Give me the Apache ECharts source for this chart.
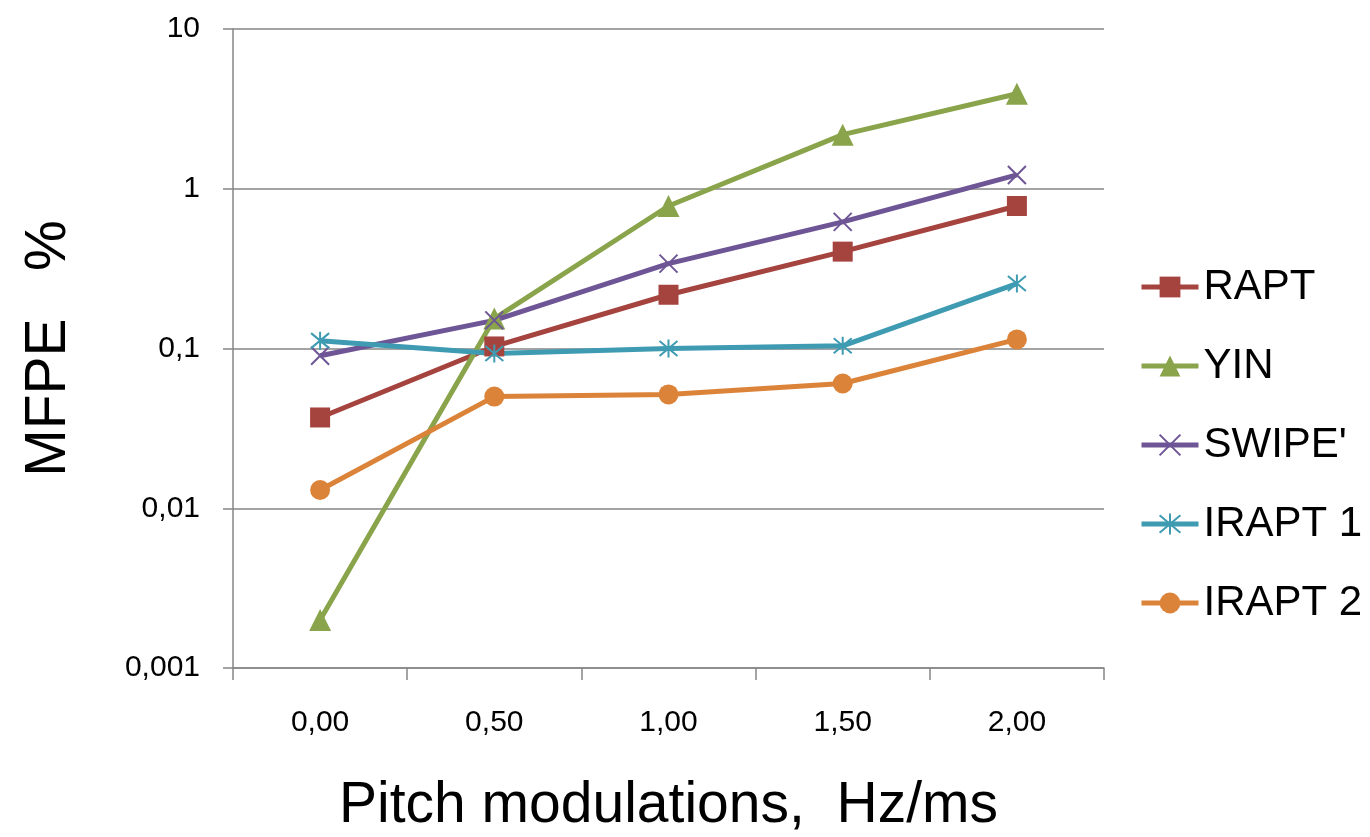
<!DOCTYPE html>
<html>
<head>
<meta charset="utf-8">
<script src="https://cdn.jsdelivr.net/npm/echarts@6/dist/echarts.min.js"></script>
<style>html,body{margin:0;padding:0;background:#fff}#c{width:1370px;height:837px}</style>
</head>
<body>
<div id="c"></div>
<script>
const categories = ['0,00', '0,50', '1,00', '1,50', '2,00'];
const rapt   = [0.037, 0.103, 0.217, 0.404, 0.78];
const yin    = [0.002, 0.154, 0.78, 2.18, 3.93];
const swipe  = [0.090, 0.150, 0.34, 0.62, 1.22];
const irapt1 = [0.112, 0.093, 0.100, 0.104, 0.255];
const irapt2 = [0.013, 0.050, 0.0516, 0.0604, 0.114];
const seriesNames = ['RAPT', 'YIN', "SWIPE'", 'IRAPT 1', 'IRAPT 2'];
const colors = ['#A5433F', '#89A44B', '#6E5595', '#3E9BB2', '#DC833A'];

const xPath = 'path://M0,0L10,10M10,0L0,10';
const starPath = 'path://M5,-1L5,11M0,0L10,10M10,0L0,10';

function mk(name, data, color, symbol, size, stroke) {
  const s = {
    name, type: 'line', data, symbol, symbolSize: size,
    lineStyle: { color, width: 5 },
    itemStyle: { color },
    showSymbol: true
  };
  if (stroke) s.itemStyle = { color: color, borderColor: color, borderWidth: 2 };
  return s;
}

const chart = echarts.init(document.getElementById('c'));
chart.setOption({
  animation: false,
  backgroundColor: '#fff',
  color: colors,
  grid: { left: 233, right: 266, top: 29, bottom: 169, containLabel: false, outerBoundsMode: 'none' },
  legend: {
    orient: 'vertical', left: 1134, top: 261,
    itemWidth: 57, itemHeight: 26, itemGap: 37,
    lineStyle: { width: 5 },
    textStyle: { fontSize: 42, fontFamily: 'Liberation Sans, Arial, sans-serif', color: '#000' },
    data: seriesNames
  },
  xAxis: {
    type: 'category', data: categories, boundaryGap: true,
    name: 'Pitch modulations,  Hz/ms', nameLocation: 'middle', nameGap: 110,
    nameTextStyle: { fontSize: 57, fontFamily: 'Liberation Sans, Arial, sans-serif', color: '#000' },
    axisLine: { lineStyle: { color: '#868686', width: 1.5 } },
    axisTick: { show: true, length: 12, lineStyle: { color: '#868686', width: 1.5 } },
    axisLabel: { fontSize: 30, margin: 40, color: '#000', fontFamily: 'Liberation Sans, Arial, sans-serif' }
  },
  yAxis: {
    type: 'log', logBase: 10, min: 0.001, max: 10,
    name: 'MFPE   %', nameLocation: 'middle', nameGap: 155,
    nameTextStyle: { fontSize: 57, fontFamily: 'Liberation Sans, Arial, sans-serif', color: '#000' },
    axisLine: { show: true, lineStyle: { color: '#868686', width: 1.5 } },
    axisTick: { show: true, length: 10, lineStyle: { color: '#868686', width: 1.5 } },
    splitLine: { show: true, lineStyle: { color: '#868686', width: 1.5 } },
    axisLabel: {
      fontSize: 30, margin: 33, color: '#000', fontFamily: 'Liberation Sans, Arial, sans-serif',
      formatter: v => Number(Number(v).toPrecision(3)).toString().replace('.', ',')
    }
  },
  series: [
    mk(seriesNames[0], rapt, colors[0], 'rect', 20, false),
    mk(seriesNames[1], yin, colors[1], 'triangle', 22, false),
    mk(seriesNames[2], swipe, colors[2], xPath, 18, true),
    mk(seriesNames[3], irapt1, colors[3], starPath, 18, true),
    mk(seriesNames[4], irapt2, colors[4], 'circle', 20, false)
  ]
});
</script>
</body>
</html>
